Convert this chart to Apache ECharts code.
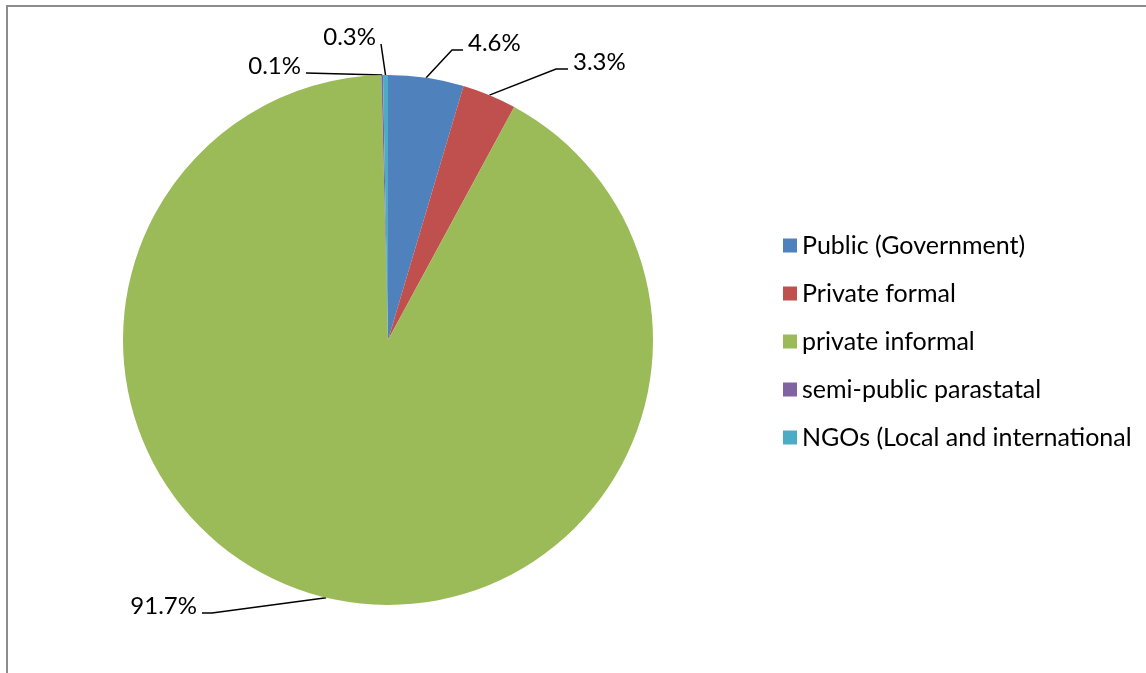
<!DOCTYPE html>
<html>
<head>
<meta charset="utf-8">
<script src="https://cdn.jsdelivr.net/npm/echarts@6/dist/echarts.min.js"></script>
<style>html,body{margin:0;padding:0;background:#fff}#c{width:1146px;height:673px}</style>
</head>
<body>
<div id="c"></div>
<script>
const categories = ['Public (Government)', 'Private formal', 'private informal', 'semi-public parastatal', 'NGOs (Local and international'];
const values = [4.6, 3.3, 91.7, 0.1, 0.3];
const colors = ['#4F81BD', '#C0504D', '#9BBB59', '#8064A2', '#4BACC6'];

// label placement (layout only): anchor x, center y, side, bend offset
const labelPlace = [
  {x: 468, y: 43, side: 'left', bend: 11},
  {x: 573, y: 62, side: 'left', bend: 12},
  {x: 197, y: 606, side: 'right', bend: 10},
  {x: 301, y: 66, side: 'right', bend: 0},
  {x: 376, y: 37, side: 'right', bend: 0}
];

const FONT = 'Lato';
const chart = echarts.init(document.getElementById('c'), null, {renderer: 'canvas'});
chart.setOption({
  animation: false,
  color: colors,
  graphic: [{
    type: 'rect', silent: true,
    shape: {x: 7, y: 6, width: 1200, height: 720},
    style: {fill: 'none', stroke: '#8c8c8c', lineWidth: 2}
  }],
  legend: {
    orient: 'vertical',
    left: 778,
    top: 228,
    padding: 5,
    itemWidth: 14,
    itemHeight: 14,
    itemGap: 23,
    icon: 'rect',
    textStyle: {fontFamily: FONT, fontSize: 25, color: '#000', lineHeight: 25, padding: [0, 0, 0, 0]},
    data: categories
  },
  series: [{
    type: 'pie',
    center: [388, 340],
    radius: 265,
    startAngle: 90,
    clockwise: true,
    avoidLabelOverlap: false,
    itemStyle: {borderWidth: 0},
    emphasis: {disabled: true},
    label: {
      show: true,
      position: 'outside',
      formatter: p => p.value.toFixed(1) + '%',
      fontFamily: FONT, fontSize: 24, color: '#000'
    },
    labelLine: {show: true, lineStyle: {color: '#000', width: 1.5}},
    labelLayout: function (params) {
      const lp = labelPlace[params.dataIndex];
      const p0 = params.labelLinePoints ? params.labelLinePoints[0] : null;
      const endX = lp.side === 'left' ? lp.x - 5 : lp.x + 5;
      const endY = lp.y + 7;
      const res = {x: lp.x, y: lp.y, align: lp.side, verticalAlign: 'middle'};
      if (p0) {
        const bendX = lp.side === 'left' ? endX - lp.bend : endX + lp.bend;
        res.labelLinePoints = lp.bend ? [p0, [bendX, endY], [endX, endY]] : [p0, [(p0[0] + endX) / 2, (p0[1] + endY) / 2], [endX, endY]];
      }
      return res;
    },
    data: categories.map((n, i) => ({name: n, value: values[i]}))
  }]
});
</script>
</body>
</html>
